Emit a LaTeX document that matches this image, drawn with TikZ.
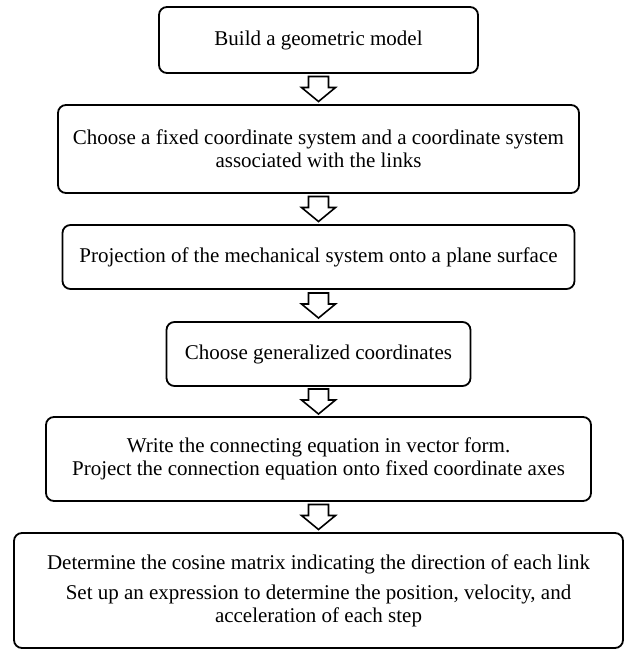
\documentclass[tikz,border=0pt]{standalone}
\usepackage{fontspec}
\setmainfont{Liberation Serif}
\usetikzlibrary{positioning}

\begin{document}
\begin{tikzpicture}
    \tikzstyle{every node} = [font=\fontsize{21}{23}\selectfont]
    \tikzstyle{block} = [draw, rectangle, line width=1.8pt, rounded corners=8pt, align=center, inner sep=0pt, outer sep=0pt]
    \tikzset{hollowArrow/.pic={
        \draw[line width=1.6pt, line join=miter]
        (-10pt,12.5pt) -- (10pt,12.5pt) -- (10pt,1.5pt) -- (17pt,1.5pt) -- (0pt,-12.5pt)
        -- (-17pt,1.5pt) -- (-10pt,1.5pt) -- cycle;}}
    \useasboundingbox (0,0) rectangle (624pt,-652pt);
    % place nodes
    \node[block, minimum width=319pt, minimum height=66pt] (buildModel) at (318.5pt,-40pt) {Build a geometric model};
    \node[block, minimum width=521pt, minimum height=88pt, below=32pt of buildModel] (chooseSystems)
        {Choose a fixed coordinate system and a coordinate system\\associated with the links};
    \node[block, minimum width=512pt, minimum height=64pt, below=32pt of chooseSystems] (projectPlane)
        {Projection of the mechanical system onto a plane surface};
    \node[block, minimum width=304pt, minimum height=64pt, below=33pt of projectPlane] (chooseCoordinates)
        {Choose generalized coordinates};
    \node[block, minimum width=545pt, minimum height=84pt, below=31pt of chooseCoordinates] (writeEquation)
        {Write the connecting equation in vector form.\\Project the connection equation onto fixed coordinate axes};
    \node[block, minimum width=609pt, minimum height=115pt, below=32pt of writeEquation] (determineMatrix)
        {Determine the cosine matrix indicating the direction of each link\\[7pt]
         Set up an expression to determine the position, velocity, and\\acceleration of each step};

    % Connections
    \path (buildModel.south) -- coordinate[midway] (arrowA) (chooseSystems.north);
    \path (chooseSystems.south) -- coordinate[midway] (arrowB) (projectPlane.north);
    \path (projectPlane.south) -- coordinate[midway] (arrowC) (chooseCoordinates.north);
    \path (chooseCoordinates.south) -- coordinate[midway] (arrowD) (writeEquation.north);
    \path (writeEquation.south) -- coordinate[midway] (arrowE) (determineMatrix.north);
    \pic at (arrowA) {hollowArrow};
    \pic at (arrowB) {hollowArrow};
    \pic at (arrowC) {hollowArrow};
    \pic at (arrowD) {hollowArrow};
    \pic at (arrowE) {hollowArrow};

\end{tikzpicture}
\end{document}
